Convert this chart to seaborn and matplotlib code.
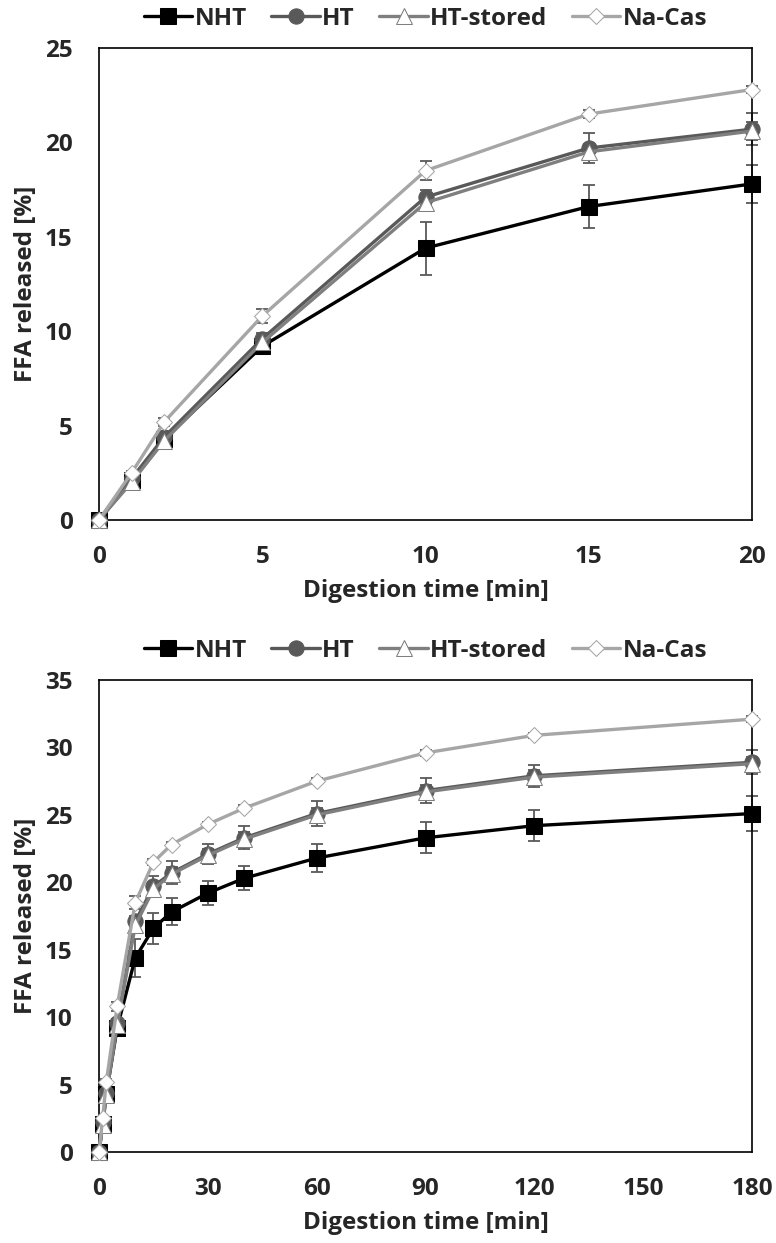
import pandas as pd
import matplotlib.pyplot as plt
import seaborn as sns

# digestion time points (min)
time_min = [0, 1, 2, 5, 10, 15, 20, 30, 40, 60, 90, 120, 180]

# FFA released (%)
nht = [0, 2.1, 4.3, 9.2, 14.4, 16.6, 17.8, 19.2, 20.3, 21.8, 23.3, 24.2, 25.1]
ht = [0, 2.2, 4.4, 9.6, 17.1, 19.7, 20.7, 22.1, 23.3, 25.1, 26.8, 27.9, 28.9]
ht_stored = [0, 2.0, 4.2, 9.4, 16.8, 19.5, 20.6, 22.0, 23.2, 25.0, 26.7, 27.8, 28.8]
na_cas = [0, 2.5, 5.2, 10.8, 18.5, 21.5, 22.8, 24.3, 25.5, 27.5, 29.6, 30.9, 32.1]

# standard deviations
nht_sd = [0, 0.2, 0.3, 0.4, 1.4, 1.15, 1.0, 0.9, 0.9, 1.05, 1.15, 1.15, 1.3]
ht_sd = [0, 0.2, 0.3, 0.3, 0.4, 0.8, 0.85, 0.75, 0.85, 0.95, 0.9, 0.8, 0.9]
ht_stored_sd = [0, 0.1, 0.2, 0.3, 0.3, 0.4, 0.5, 0.5, 0.5, 0.5, 0.5, 0.5, 0.5]
na_cas_sd = [0, 0.1, 0.2, 0.35, 0.5, 0.2, 0.2, 0.2, 0.2, 0.2, 0.2, 0.2, 0.2]

samples = ["NHT", "HT", "HT-stored", "Na-Cas"]
values = [nht, ht, ht_stored, na_cas]
sds = [nht_sd, ht_sd, ht_stored_sd, na_cas_sd]

# long table for seaborn
rows = []
for name, vals, errs in zip(samples, values, sds):
    for t, v, e in zip(time_min, vals, errs):
        rows.append({"sample": name, "time": t, "ffa": v, "sd": e})
df = pd.DataFrame(rows)

styles = {
    "NHT": dict(color="black", marker="s", markersize=11, markerfacecolor="black", markeredgecolor="black"),
    "HT": dict(color="#595959", marker="o", markersize=11, markerfacecolor="#595959", markeredgecolor="#595959"),
    "HT-stored": dict(color="#7f7f7f", marker="^", markersize=11, markerfacecolor="white", markeredgecolor="#7f7f7f"),
    "Na-Cas": dict(color="#a6a6a6", marker="D", markersize=8.5, markerfacecolor="white", markeredgecolor="#a6a6a6"),
}

FS = 17.5

sns.set_style("white")
plt.rcParams["font.family"] = ["Open Sans", "DejaVu Sans"]
plt.rcParams["font.weight"] = "bold"

fig = plt.figure(figsize=(7.76, 12.43), dpi=100)
ax_top = fig.add_axes([0.1276, 0.5817, 0.8415, 0.3797])
ax_bot = fig.add_axes([0.1276, 0.0732, 0.8415, 0.3797])


def draw_panel(ax, data, xmax, xticks, ymax):
    for name in samples:
        sub = data[data["sample"] == name]
        ax.errorbar(sub["time"], sub["ffa"], yerr=sub["sd"], fmt="none",
                    ecolor="#595959", elinewidth=1.3, capsize=4, capthick=1.3,
                    zorder=1.5, clip_on=False)
        sns.lineplot(data=sub, x="time", y="ffa", ax=ax, label=name,
                     linewidth=2.4, clip_on=False, zorder=3,
                     errorbar=None, **styles[name])
    ax.set_xlim(0, xmax)
    ax.set_ylim(0, ymax)
    ax.set_xticks(xticks)
    ax.set_yticks(range(0, ymax + 1, 5))
    ax.tick_params(length=0, labelsize=FS)
    ax.tick_params(axis="y", pad=19)
    ax.tick_params(axis="x", pad=18)
    for lab in ax.get_xticklabels() + ax.get_yticklabels():
        lab.set_fontweight("bold")
    for sp in ax.spines.values():
        sp.set_visible(True)
        sp.set_color("black")
        sp.set_linewidth(1.2)
    ax.set_xlabel("Digestion time [min]", fontsize=FS, fontweight="bold", labelpad=7)
    ax.set_ylabel("FFA released [%]", fontsize=FS, fontweight="bold", labelpad=5)
    handles, labels = ax.get_legend_handles_labels()
    ax.legend(handles, labels, loc="center", bbox_to_anchor=(0.5, 1.062),
              ncol=4, frameon=False, handlelength=2.0,
              handletextpad=0.1, columnspacing=1.0,
              prop={"weight": "bold", "size": FS})


draw_panel(ax_top, df[df["time"] <= 20], 20, [0, 5, 10, 15, 20], 25)
draw_panel(ax_bot, df, 180, [0, 30, 60, 90, 120, 150, 180], 35)

fig.savefig("out.png", dpi=100)
